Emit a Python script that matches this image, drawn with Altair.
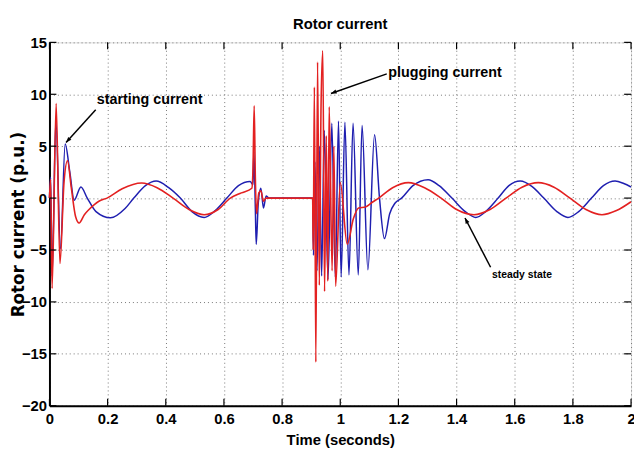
import altair as alt
import pandas as pd

# ---- data ----
blue_t = [0.000, 0.004, 0.009, 0.022, 0.038, 0.054, 0.070, 0.085, 0.108, 0.130, 0.160, 0.210,
          0.260, 0.290, 0.330, 0.367, 0.410, 0.450, 0.490, 0.532, 0.570, 0.610, 0.650, 0.690,
          0.700, 0.703, 0.708, 0.711, 0.718, 0.727, 0.736, 0.745, 0.755, 0.905,
          0.908, 0.913, 0.920, 0.928, 0.936, 0.945, 0.958, 0.971, 0.983, 0.994, 1.003, 1.016,
          1.030, 1.044, 1.062, 1.075, 1.095, 1.118, 1.135, 1.152, 1.170, 1.188, 1.211, 1.250,
          1.302, 1.340, 1.384, 1.430, 1.466, 1.500, 1.543, 1.580, 1.619, 1.660, 1.700, 1.745,
          1.783, 1.820, 1.864, 1.905, 1.945, 1.975, 2.000]
blue_v = [0.0, 2.0, -7.5, 7.5, -4.9, 5.2, 2.5, -0.2, 1.07, 0.0, -1.3, -1.9,
          -1.0, 0.0, 1.2, 1.64, 1.0, 0.0, -1.3, -1.86, -1.2, 0.0, 1.2, 1.6,
          1.3, 4.5, -1.0, -4.45, -0.5, 0.95, -0.95, 0.2, 0.0, 0.0,
          -5.5, 3.5, -7.0, 5.0, -7.5, 6.5, -7.8, 7.2, -7.6, 7.4, -7.6, 7.3,
          -7.4, 7.2, -7.4, 7.0, -6.9, 6.1, 0.0, -3.9, -1.5, -0.5, 0.0, 1.2,
          1.77, 1.2, 0.0, -1.3, -1.86, -1.3, 0.0, 1.2, 1.64, 1.1, 0.0, -1.3,
          -1.86, -1.3, 0.0, 1.2, 1.64, 1.4, 1.07]

red_t = [0.000, 0.004, 0.009, 0.023, 0.036, 0.050, 0.062, 0.075, 0.090, 0.102, 0.120, 0.136,
         0.170, 0.198, 0.250, 0.317, 0.370, 0.425, 0.480, 0.532, 0.580, 0.622, 0.660, 0.696,
         0.700, 0.704, 0.708, 0.712, 0.720, 0.727, 0.736, 0.745, 0.905,
         0.907, 0.911, 0.916, 0.922, 0.928, 0.934, 0.940, 0.946, 0.952, 0.957, 0.962, 0.972,
         0.978, 0.984, 1.000, 1.024, 1.045, 1.063, 1.087, 1.110, 1.132, 1.180, 1.234, 1.290,
         1.347, 1.400, 1.460, 1.515, 1.570, 1.625, 1.681, 1.735, 1.790, 1.845, 1.900, 1.950,
         2.000]
red_v = [0.0, 1.8, -8.7, 9.1, -6.3, 1.5, 3.6, 1.0, -1.8, -2.4, -1.6, -1.1,
         -0.3, 0.0, 0.9, 1.45, 1.0, 0.0, -1.1, -1.6, -1.1, 0.0, 0.5, 0.95,
         3.0, 8.9, 2.0, -1.5, 0.5, 0.7, -0.3, 0.0, 0.0,
         -5.0, 10.7, -15.8, 13.1, -8.4, 9.0, 14.2, -9.0, 6.0, -8.0, 8.8, -7.0,
         5.0, -8.5, 1.5, -4.45, -2.0, -0.95, -0.85, -0.4, 0.0, 1.0, 1.49, 1.0,
         0.0, -1.1, -1.6, -1.1, 0.0, 1.05, 1.49, 1.05, 0.0, -1.1, -1.6, -1.2,
         -0.35]

x_ticks = [0, 0.2, 0.4, 0.6, 0.8, 1, 1.2, 1.4, 1.6, 1.8, 2]
y_ticks = [-20, -15, -10, -5, 0, 5, 10, 15]

ann_text = ["starting current", "plugging current", "steady state"]
ann_tx = [0.163, 1.165, 1.522]
ann_ty = [9.4, 12.0, -7.4]
ann_size = [14.5, 14.5, 10.5]
arr_x0 = [0.159, 1.160, 1.517]
arr_y0 = [8.5, 11.97, -6.66]
arr_x1 = [0.057, 0.968, 1.429]
arr_y1 = [5.35, 10.08, -1.92]
arr_angle = [222, 250, 333]

FONT = "Liberation Sans, Arial, sans-serif"
YFONT = "DejaVu Sans, sans-serif"
BLUE = "#1f1fb0"
RED = "#e32121"

W, H = 589, 368

df = pd.concat([
    pd.DataFrame({"t": blue_t, "v": blue_v, "s": "blue", "o": range(len(blue_t))}),
    pd.DataFrame({"t": red_t, "v": red_v, "s": "red", "o": range(len(red_t))}),
])

xs = alt.Scale(domain=[0, 2], nice=False, zero=False)
ys = alt.Scale(domain=[-20, 15], nice=False, zero=False)

xaxis = alt.Axis(values=x_ticks, format="~g", grid=True, gridDash=[1, 3], gridColor="#777",
                 gridWidth=1, tickSize=0, domainColor="black", domainWidth=2,
                 labelFont=FONT, labelFontSize=15, labelFontWeight="bold", labelColor="black",
                 labelPadding=6, labelFlush=False,
                 title="Time (seconds)", titleFont=FONT, titleFontSize=15, titleFontWeight="bold",
                 titleColor="black", titleY=39, titleBaseline="alphabetic")
yaxis = alt.Axis(values=y_ticks, grid=True, gridDash=[1, 3], gridColor="#777",
                 gridWidth=1, tickSize=0, domainColor="black", domainWidth=2,
                 labelFont=FONT, labelFontSize=15, labelFontWeight="bold", labelColor="black",
                 labelPadding=3, labelFlush=False,
                 title="Rotor current (p.u.)", titleFont=YFONT,
                 titleFontSize=17, titleFontWeight="bold", titleColor="black",
                 titleX=-26, titleBaseline="alphabetic")

base = alt.Chart(df)

blue_line = base.transform_filter(alt.datum.s == "blue").mark_line(
    color=BLUE, strokeWidth=1.5, interpolate="monotone").encode(
    x=alt.X("t:Q", scale=xs, axis=xaxis),
    y=alt.Y("v:Q", scale=ys, axis=yaxis),
    order="o:Q")
red_line = base.transform_filter(alt.datum.s == "red").mark_line(
    color=RED, strokeWidth=1.6, interpolate="monotone").encode(
    x=alt.X("t:Q", scale=xs),
    y=alt.Y("v:Q", scale=ys),
    order="o:Q")

xt = pd.DataFrame({"x": x_ticks})
yt = pd.DataFrame({"y": y_ticks})
tick_b = alt.Chart(xt).mark_rule(color="black", strokeWidth=1.2).encode(
    x=alt.X("x:Q", scale=xs), y=alt.value(H - 7), y2=alt.value(H))
tick_t = alt.Chart(xt).mark_rule(color="black", strokeWidth=1.2).encode(
    x=alt.X("x:Q", scale=xs), y=alt.value(0), y2=alt.value(7))
tick_l = alt.Chart(yt).mark_rule(color="black", strokeWidth=1.2).encode(
    y=alt.Y("y:Q", scale=ys), x=alt.value(0), x2=alt.value(7))
tick_r = alt.Chart(yt).mark_rule(color="black", strokeWidth=1.2).encode(
    y=alt.Y("y:Q", scale=ys), x=alt.value(W - 7), x2=alt.value(W))

ann = pd.DataFrame({"text": ann_text, "tx": ann_tx, "ty": ann_ty, "fs": ann_size,
                    "x0": arr_x0, "y0": arr_y0, "x1": arr_x1, "y1": arr_y1, "ang": arr_angle})

arrows = alt.Chart(ann).mark_rule(color="black", strokeWidth=1.5).encode(
    x=alt.X("x0:Q", scale=xs), y=alt.Y("y0:Q", scale=ys),
    x2="x1:Q", y2="y1:Q")
heads = alt.Chart(ann).mark_point(
    shape="M0,0L-0.45,1.2L0.45,1.2Z", filled=True, color="black", opacity=1, size=90).encode(
    x=alt.X("x1:Q", scale=xs), y=alt.Y("y1:Q", scale=ys),
    angle=alt.Angle("ang:Q", scale=None))
texts = alt.Chart(ann).mark_text(
    font=FONT, fontWeight="bold", color="black", align="left", baseline="middle").encode(
    x=alt.X("tx:Q", scale=xs), y=alt.Y("ty:Q", scale=ys), text="text:N",
    size=alt.Size("fs:Q", scale=None, legend=None))

chart = alt.layer(blue_line, red_line, tick_b, tick_t, tick_l, tick_r, arrows, heads, texts).properties(
    width=W, height=H,
    title=alt.TitleParams("Rotor current", font=FONT, fontSize=15, fontWeight="bold",
                          color="black", anchor="middle", offset=4),
    padding={"left": 42, "top": 32, "right": 3, "bottom": 40},
    autosize="none",
).configure_view(stroke="black", strokeWidth=2).configure(background="white")

chart.save("out.html", embed_options={"renderer": "svg", "actions": False})
